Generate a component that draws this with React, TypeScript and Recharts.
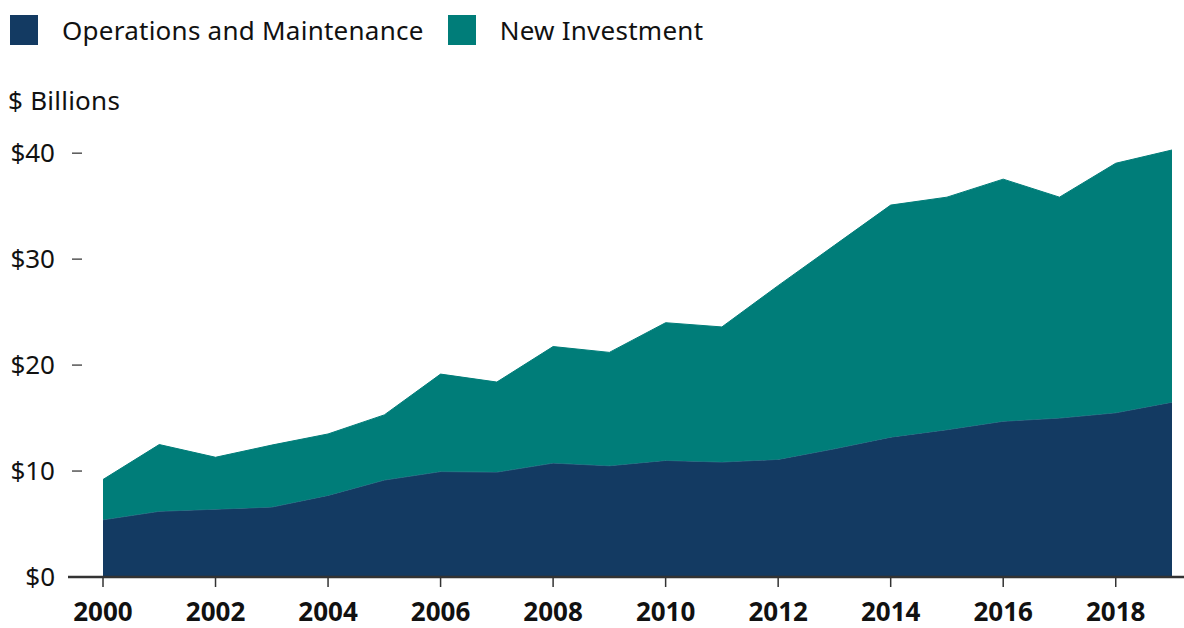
import { Area, AreaChart, XAxis, YAxis } from "recharts"

const years = [2000, 2001, 2002, 2003, 2004, 2005, 2006, 2007, 2008, 2009, 2010, 2011, 2012, 2013, 2014, 2015, 2016, 2017, 2018, 2019]
const operations = [5.4, 6.2, 6.4, 6.6, 7.7, 9.15, 9.95, 9.9, 10.75, 10.5, 11.0, 10.85, 11.1, 12.1, 13.2, 13.9, 14.7, 15.0, 15.5, 16.5]
const newInvestment = [3.8, 6.3, 4.9, 5.85, 5.8, 6.15, 9.2, 8.5, 11.0, 10.7, 13.0, 12.75, 16.4, 19.2, 21.9, 21.95, 22.85, 20.85, 23.55, 23.8]
const xTicks = [2000, 2002, 2004, 2006, 2008, 2010, 2012, 2014, 2016, 2018]
const yTicks = [0, 10, 20, 30, 40]

const data = years.map((year, i) => ({
  year,
  operations: operations[i],
  newInvestment: newInvestment[i],
}))

const NAVY = "#133a62"
const TEAL = "#007d79"
const FONT = "'Noto Sans', sans-serif"

function YTick(props: any) {
  const { x, y, payload } = props
  return (
    <g>
      {payload.value > 0 && <line x1={x + 4} x2={x + 14} y1={y} y2={y} stroke="#555" strokeWidth={1.5} />}
      <text x={x - 13} y={y} dy={9} textAnchor="end" fontSize={26} fill="#111" fontFamily={FONT}>
        ${payload.value}
      </text>
    </g>
  )
}

function LegendItem({ color, label }: { color: string; label: string }) {
  return (
    <div style={{ display: "flex", alignItems: "center", marginRight: 24 }}>
      <div style={{ width: 28, height: 30, background: color, marginRight: 24 }} />
      <span>{label}</span>
    </div>
  )
}

export default function App() {
  return (
    <div style={{ position: "absolute", top: 0, left: 0, width: 1184, height: 628, fontFamily: FONT, color: "#111", background: "#fff" }}>
      <div style={{ position: "absolute", top: 15, left: 10, display: "flex", fontSize: 26, letterSpacing: 0.25, lineHeight: "30px" }}>
        <LegendItem color={NAVY} label="Operations and Maintenance" />
        <LegendItem color={TEAL} label="New Investment" />
      </div>
      <div style={{ position: "absolute", top: 82, left: 8, fontSize: 26, letterSpacing: 0.25 }}>$ Billions</div>
      <AreaChart width={1184} height={628} data={data} margin={{ top: 132, right: 0, bottom: 0, left: 0 }}>
        <XAxis
          dataKey="year"
          type="number"
          domain={[2000, 2019]}
          ticks={xTicks}
          padding={{ left: 35, right: 12 }}
          axisLine={{ stroke: "#333", strokeWidth: 2.5 }}
          tickLine={{ stroke: "#333", strokeWidth: 1.5 }}
          tickSize={10}
          tickMargin={16}
          height={51}
          tick={{ fontSize: 26, fontWeight: 700, fill: "#111", fontFamily: FONT }}
        />
        <YAxis
          domain={[0, 42]}
          ticks={yTicks}
          axisLine={false}
          tickLine={false}
          tickSize={0}
          tickMargin={0}
          width={68}
          tick={<YTick />}
        />
        <Area
          type="linear"
          dataKey="operations"
          stackId="1"
          fill={NAVY}
          fillOpacity={1}
          stroke="#2f6a86"
          strokeWidth={1}
          isAnimationActive={false}
        />
        <Area
          type="linear"
          dataKey="newInvestment"
          stackId="1"
          fill={TEAL}
          fillOpacity={1}
          stroke={TEAL}
          strokeWidth={1}
          isAnimationActive={false}
        />
      </AreaChart>
    </div>
  )
}
